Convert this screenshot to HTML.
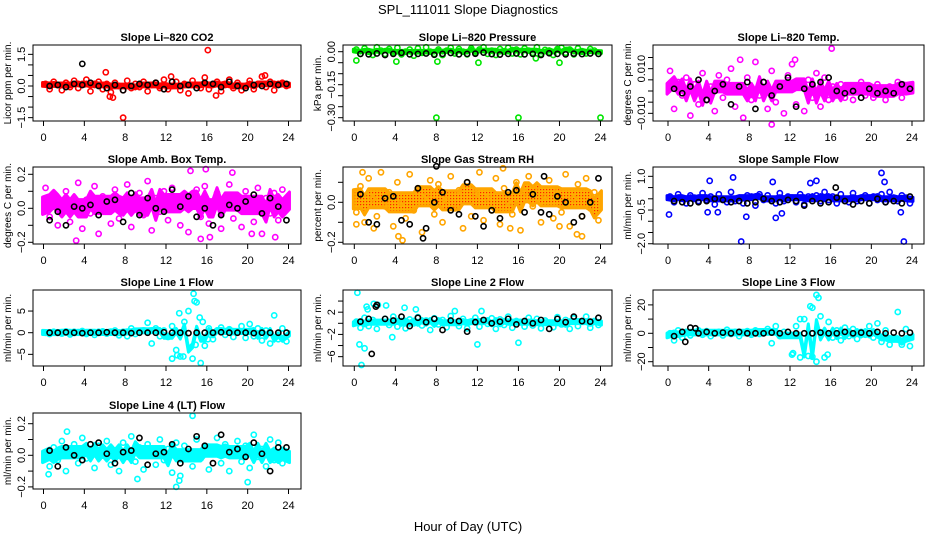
<!DOCTYPE html>
<html><head><meta charset="utf-8"><style>
html,body{margin:0;padding:0;background:#fff;}
svg{display:block;font-family:"Liberation Sans",Arial,sans-serif;}
</style></head><body>
<svg id="c" width="936" height="540" viewBox="0 0 936 540">
<defs>
<pattern id="rhpat" width="3" height="3" patternUnits="userSpaceOnUse"><rect width="3" height="3" fill="#ffb000"/><rect x="0" y="0" width="1.2" height="1.2" fill="#ff2000"/></pattern>
</defs>
<rect width="936" height="540" fill="#fff"/>
<text x="468" y="14" text-anchor="middle" font-size="13">SPL_111011  Slope Diagnostics</text>
<text x="468" y="531" text-anchor="middle" font-size="13">Hour of Day (UTC)</text>
</svg>
<script>
const hoursC=[0.2,0.6,1.0,1.4,1.8,2.2,2.6,3.0,3.4,3.8,4.2,4.6,5.0,5.4,5.8,6.2,6.6,7.0,7.4,7.8,8.2,8.6,9.0,9.4,9.8,10.2,10.6,11.0,11.4,11.8,12.2,12.6,13.0,13.4,13.8,14.2,14.6,15.0,15.4,15.8,16.2,16.6,17.0,17.4,17.8,18.2,18.6,19.0,19.4,19.8,20.2,20.6,21.0,21.4,21.8,22.2,22.6,23.0,23.4,23.8];
const hoursB=[0.6,1.4,2.2,3.0,3.8,4.6,5.4,6.2,7.0,7.8,8.6,9.4,10.2,11.0,11.8,12.6,13.4,14.2,15.0,15.8,16.6,17.4,18.2,19.0,19.8,20.6,21.4,22.2,23.0,23.8];
const xTicks=[0,4,8,12,16,20,24];

const p1Color=[0.1,-0.15,0.2,0.05,-0.2,0.15,-0.05,0.25,-0.1,0.1,0.3,-0.25,0.05,0.2,-0.15,0.1,-0.3,0.15,0.0,-0.2,0.25,-0.1,0.1,-0.05,0.2,-0.25,0.05,0.15,-0.1,0.3,-0.15,0.0,0.2,-0.2,0.1,-0.35,0.25,0.05,-0.1,0.4,-0.15,0.1,0.2,-0.25,0.05,0.3,-0.1,0.15,-0.2,0.0,0.25,-0.15,0.1,0.45,-0.05,0.2,-0.2,0.1,0.15,0.0];
const p1ExtraX=[6.1,7.8,16.1,6.5,6.8,21.7,12.5,16.9];
const p1ExtraY=[0.65,-1.5,1.7,-0.5,-0.55,0.5,0.45,-0.45];
const p1Black=[0.0,0.05,-0.05,0.1,0.05,0.15,0.0,-0.1,0.05,-0.2,0.0,0.1,0.05,0.15,-0.15,0.2,0.0,0.05,-0.1,0.15,0.1,-0.05,0.2,0.0,-0.1,0.05,0.0,0.1,0.05,0.1];
const p1BlackX=[3.8];const p1BlackY=[1.05];

const p2Color=[0.01,-0.01,0.015,0.0,-0.015,0.02,0.005,-0.01,0.012,-0.005,0.018,-0.012,0.0,0.01,-0.018,0.015,-0.005,0.02,0.0,-0.01,0.01,-0.015,0.005,0.018,-0.008,0.012,0.0,-0.012,0.015,-0.005,0.01,0.02,-0.01,0.005,-0.015,0.012,0.0,0.018,-0.008,0.01,-0.012,0.015,0.005,-0.005,0.02,-0.01,0.008,0.0,-0.015,0.012,0.018,-0.005,0.01,-0.012,0.015,0.0,-0.008,0.012,0.005,-0.01];
const p2ExtraX=[0.2,4.1,8.1,12.1,20.0,17.7,8.0,16.0,24.0];
const p2ExtraY=[-0.04,-0.045,-0.045,-0.05,-0.05,-0.03,-0.3,-0.3,-0.3];
const p2Black=[-0.01,-0.012,-0.008,-0.015,-0.01,-0.005,-0.012,-0.01,-0.008,-0.014,-0.01,-0.006,-0.012,-0.01,-0.009,-0.004,-0.011,-0.013,-0.01,-0.008,-0.012,-0.01,-0.015,-0.007,-0.01,-0.012,-0.009,-0.011,-0.008,-0.01];
const p2BlackX=[];const p2BlackY=[];

const p3Color=[0.009,-0.008,0.004,-0.002,0.006,-0.011,0.003,-0.006,0.008,-0.004,0.002,-0.009,0.007,-0.003,0.005,0.010,-0.007,0.001,-0.012,0.006,-0.004,0.013,-0.002,0.004,-0.008,0.009,-0.005,0.002,-0.010,0.007,0.012,-0.006,0.003,-0.009,0.005,-0.003,0.008,-0.007,0.006,-0.004,0.002,-0.002,0.003,-0.003,0.001,-0.004,0.002,0.004,-0.002,0.001,-0.003,0.003,0.000,-0.004,0.002,-0.001,0.004,-0.003,0.001,0.002];
const p3ExtraX=[16.1,10.2,7.1,12.5];
const p3ExtraY=[0.019,-0.015,0.014,0.014];
const p3Black=[0.001,-0.001,0.002,0.005,-0.004,0.0,0.003,-0.006,0.002,0.004,-0.008,0.004,-0.002,0.002,0.006,-0.007,0.001,0.003,0.004,0.006,0.0,-0.001,0.0,-0.003,0.001,-0.001,0.0,-0.001,0.003,0.001];
const p3BlackX=[];const p3BlackY=[];

const p4Color=[0.12,-0.05,0.08,-0.1,0.03,0.1,-0.08,0.0,0.15,-0.12,0.05,-0.03,0.13,-0.15,0.07,0.02,-0.09,0.11,-0.06,0.04,0.14,-0.11,0.01,0.09,-0.04,0.16,-0.13,0.06,-0.02,0.1,-0.07,0.12,0.03,-0.1,0.08,-0.14,0.05,0.11,-0.05,0.13,-0.09,0.0,0.09,-0.12,0.07,0.14,-0.06,0.04,-0.11,0.1,0.02,-0.08,0.12,-0.15,0.06,-0.03,0.09,-0.07,0.11,0.0];
const p4ExtraX=[14.4,15.9,18.5,3.2,15.4,16.3,22.7,20.4];
const p4ExtraY=[0.22,0.23,0.21,-0.19,-0.18,-0.17,-0.17,-0.15];
const p4Black=[-0.07,-0.02,-0.1,0.01,0.0,0.02,-0.04,0.04,0.05,-0.08,0.09,-0.04,0.06,0.0,-0.02,0.11,0.01,0.07,-0.05,0.0,-0.1,-0.04,0.02,0.0,0.04,0.08,-0.03,0.06,0.01,-0.07];
const p4BlackX=[];const p4BlackY=[];

const p5Color=[-0.05,0.08,-0.1,0.12,0.02,-0.07,0.15,-0.02,0.05,-0.12,0.1,0.0,-0.08,0.14,-0.04,0.07,-0.15,0.03,0.11,-0.06,0.09,-0.1,0.01,0.13,-0.03,0.06,-0.13,0.1,-0.07,0.04,0.15,-0.09,0.02,-0.04,0.12,-0.11,0.07,0.0,-0.06,0.1,-0.14,0.05,0.13,-0.02,0.08,-0.1,0.03,0.11,-0.08,0.06,-0.05,0.14,-0.12,0.02,0.09,-0.07,0.12,-0.03,0.05,-0.09];
const p5ExtraX=[4.3,4.7,0.2,1.9,20.0,21.7,22.2,15.2,0.8,14.5];
const p5ExtraY=[-0.17,-0.19,-0.11,-0.13,-0.12,-0.16,-0.17,-0.13,0.15,0.17];
const p5Black=[0.04,-0.1,-0.11,0.02,0.03,-0.09,-0.11,0.07,-0.13,0.0,0.05,-0.04,-0.06,0.1,-0.07,-0.12,-0.04,-0.08,0.05,0.06,-0.05,0.04,-0.05,-0.06,0.03,0.0,-0.1,-0.07,0.0,0.12];
const p5BlackX=[8.0,18.5,6.7];const p5BlackY=[0.18,0.13,-0.18];

const p6Color=[0.1,-0.15,0.2,0.0,-0.2,0.15,0.05,-0.1,0.25,-0.05,0.1,-0.25,0.2,0.0,-0.15,0.3,-0.1,0.05,-0.2,0.15,0.1,-0.3,0.2,-0.05,0.15,0.0,-0.2,0.25,-0.1,0.1,0.05,-0.15,0.2,-0.25,0.1,0.0,0.15,-0.1,0.3,-0.05,0.1,-0.2,0.2,0.0,-0.15,0.25,-0.1,0.05,0.15,-0.2,0.1,-0.05,0.2,-0.15,0.3,0.0,-0.1,0.15,0.05,-0.2];
const p6ExtraX=[0.1,4.1,6.4,7.2,10.3,10.6,11.2,14.0,14.6,21.0,21.3,23.2,3.9,7.7,4.9,22.9];
const p6ExtraY=[-0.7,0.8,0.95,-1.9,0.75,-0.85,-0.65,0.7,0.8,1.15,0.75,-1.9,-0.6,-0.8,-0.6,-0.6];
const p6Black=[-0.1,-0.15,-0.2,-0.15,-0.1,0.0,-0.05,-0.15,-0.1,-0.2,-0.15,0.0,-0.1,-0.15,-0.05,-0.1,-0.3,-0.1,-0.2,-0.15,0.05,-0.1,-0.25,-0.1,-0.2,0.0,-0.15,-0.1,-0.2,0.1];
const p6BlackX=[16.5];const p6BlackY=[0.5];

const p7Color=[0.0,-0.3,0.2,0.1,-0.2,0.3,-0.4,0.2,0.0,0.4,-0.3,0.1,-0.5,0.2,0.3,-0.2,0.0,0.5,-0.6,0.2,-0.8,1.0,-0.3,0.4,0.5,2.3,-2.5,1.0,-0.8,0.5,-1.0,1.5,-4.0,-5.5,2.5,5.0,-6.0,7.0,-7.0,-3.0,1.0,-1.5,0.5,1.2,-0.5,0.8,-1.0,0.3,1.5,-1.2,2.0,-0.8,1.0,-1.8,0.5,-2.5,4.0,-1.5,1.0,-2.0];
const p7ExtraX=[14.7,14.8,13.3,13.7,15.3,15.6,16.1,14.9,12.6,13.1];
const p7ExtraY=[9.0,7.3,4.5,-5.5,3.5,2.5,-1.5,-2.8,-6.0,-5.2];
const p7Black=[0,0,0.1,0,-0.1,0,0,0.1,0,0,-0.1,0,0,0,0.1,0,0,-0.1,0,0,0,0.1,0,0,0,-0.1,0,0,0,0];
const p7BlackX=[];const p7BlackY=[];

const p8Color=[0.3,-0.8,1.0,-0.5,0.6,-1.0,0.2,0.8,-0.3,1.2,-0.6,0.4,-0.9,0.7,0.0,1.1,-0.4,0.5,-1.2,0.9,-0.2,0.6,-0.7,1.3,0.1,-0.5,0.8,-0.9,0.3,1.0,-0.6,0.5,-0.1,0.9,-1.0,0.7,-0.3,1.2,-0.8,0.4,0.2,-0.6,1.0,-0.4,0.8,-0.9,0.5,0.1,-0.7,1.1,-0.2,0.6,-1.0,0.9,-0.5,0.3,1.2,-0.8,0.4,-0.3];
const p8ExtraX=[0.3,0.7,0.5,1.0,1.2,1.9,2.3,3.7,1.3,4.9,6.0,12.0,16.0,12.4,9.8,3.1];
const p8ExtraY=[5.5,-7.5,-3.8,-4.5,3.0,3.5,3.3,-2.5,2.5,2.8,2.5,-3.8,-3.5,2.2,2.2,3.2];
const p8Black=[0.3,0.8,3.3,0.8,0.5,1.2,-0.5,1.0,0.2,0.8,-1.2,0.5,0.4,-1.5,0.2,0.6,0.0,0.3,0.8,-0.2,0.4,0.0,0.6,-1.0,0.8,0.2,1.2,0.4,0.3,1.0];
const p8BlackX=[1.7,2.1];const p8BlackY=[-5.5,3.0];

const p9Color=[0.0,-5.0,2.0,-3.0,1.0,-1.5,0.5,2.0,-1.0,1.5,-2.0,0.5,1.0,-1.5,2.5,-0.5,1.0,-2.0,0.5,1.5,-1.0,2.0,-0.5,1.0,3.0,-7.0,5.0,-2.0,1.0,-1.5,-15.0,5.0,-17.0,10.0,-16.0,18.0,-20.0,12.0,-17.0,8.0,-3.0,2.0,-5.0,4.0,-2.0,3.0,-4.0,1.0,-1.0,5.0,-3.0,7.0,-6.0,2.0,-8.0,-4.0,15.0,-8.0,3.0,-9.0];
const p9ExtraX=[14.6,14.8,13.0,12.3,15.7,14.0,14.2];
const p9ExtraY=[27.0,25.0,10.0,-14.0,-15.0,19.0,-16.5];
const p9Black=[-2.0,1.0,4.0,0.0,1.0,0.0,0.5,0.0,1.0,0.0,0.0,0.0,0.5,0.0,1.0,0.0,0.0,0.0,0.5,0.0,0.0,1.0,0.0,0.5,0.0,1.0,0.0,0.5,0.0,0.5];
const p9BlackX=[1.7,2.7];const p9BlackY=[-6.0,3.5];

const p10Color=[0.01,-0.07,0.05,-0.03,0.09,-0.1,0.02,0.07,-0.05,0.11,-0.02,0.04,-0.08,0.06,0.0,0.09,-0.06,0.03,-0.1,0.08,-0.01,0.12,-0.04,0.05,-0.09,0.07,0.02,-0.06,0.1,-0.03,0.04,-0.11,0.08,-0.13,0.06,0.0,-0.07,0.1,-0.02,0.05,-0.09,0.03,0.11,-0.05,0.07,-0.1,0.02,0.09,-0.04,0.06,-0.08,0.13,-0.01,0.04,-0.07,0.1,-0.03,0.08,-0.05,0.01];
const p10ExtraX=[14.6,13.0,20.0,13.3,0.5,2.3,9.2];
const p10ExtraY=[0.25,-0.2,-0.17,-0.16,-0.12,0.15,-0.15];
const p10Black=[0.03,-0.07,0.05,0.0,-0.03,0.07,0.08,0.01,-0.05,0.02,0.03,0.11,-0.06,0.01,0.02,0.07,-0.05,0.04,0.12,0.06,-0.05,0.13,0.02,0.04,-0.01,0.08,0.01,-0.1,0.05,0.05];
const p10BlackX=[];const p10BlackY=[];

const titles=["Slope Li\u2013820 CO2","Slope Li\u2013820 Pressure","Slope Li\u2013820 Temp.","Slope Amb. Box Temp.","Slope Gas Stream RH","Slope Sample Flow","Slope Line 1 Flow","Slope Line 2 Flow","Slope Line 3 Flow","Slope Line 4 (LT) Flow"];
const yTitles=["Licor ppm per min.","kPa per min.","degrees C per min.","degrees C per min.","percent per min.","ml/min per min.","ml/min per min.","ml/min per min.","ml/min per min.","ml/min per min."];
const yTickVals=[[-1.5,-1,-0.5,0,0.5,1,1.5],[0,-0.05,-0.1,-0.15,-0.2,-0.25,-0.3],[-0.01,-0.005,0,0.005,0.01,0.015],[-0.2,-0.1,0,0.1,0.2],[-0.2,-0.1,0,0.1],[-2,-1.5,-1,-0.5,0,0.5,1],[-5,0,5],[-6,-4,-2,0,2,4],[-20,-10,0,10,20],[-0.2,-0.1,0,0.1,0.2]];
const yTickLabels=[{"-1.5":"\u22121.5","0":"0.0","1.5":"1.5"},{"0":"0.00","-0.15":"\u22120.15","-0.3":"\u22120.30"},{"-0.01":"\u22120.010","0.01":"0.010"},{"-0.2":"\u22120.2","0":"0.0","0.2":"0.2"},{"-0.2":"\u22120.2","0":"0.0"},{"-2":"\u22122.0","-0.5":"\u22120.5","1":"1.0"},{"-5":"\u22125","0":"0","5":"5"},{"-6":"\u22126","-2":"\u22122","2":"2"},{"-20":"\u221220","0":"0","20":"20"},{"-0.2":"\u22120.2","0":"0.0","0.2":"0.2"}];

const colorSets=[p1Color,p2Color,p3Color,p4Color,p5Color,p6Color,p7Color,p8Color,p9Color,p10Color];
const extraXs=[p1ExtraX,p2ExtraX,p3ExtraX,p4ExtraX,p5ExtraX,p6ExtraX,p7ExtraX,p8ExtraX,p9ExtraX,p10ExtraX];
const extraYs=[p1ExtraY,p2ExtraY,p3ExtraY,p4ExtraY,p5ExtraY,p6ExtraY,p7ExtraY,p8ExtraY,p9ExtraY,p10ExtraY];
const blackSets=[p1Black,p2Black,p3Black,p4Black,p5Black,p6Black,p7Black,p8Black,p9Black,p10Black];
const blackXs=[p1BlackX,p2BlackX,p3BlackX,p4BlackX,p5BlackX,p6BlackX,p7BlackX,p8BlackX,p9BlackX,p10BlackX];
const blackYs=[p1BlackY,p2BlackY,p3BlackY,p4BlackY,p5BlackY,p6BlackY,p7BlackY,p8BlackY,p9BlackY,p10BlackY];

/* layout (not data) */
const colL=[33,343,653],colR=[301,612,924],x0=[43.5,354.3,668],x24=[288.5,600.5,912];
const rowT=[45,167,290,413],rowB=[121,244,366,489];
const yZero=[86,51.7,91,208.3,202.3,198.8,332.7,323.3,333.3,455.3];
const yScale=[21.1,220,2234,170,200,22.47,4.33,5.56,1.42,158];
const colors=["#ff0000","#00e600","#ff00ff","#ff00ff","#ffa500","#0000ff","#00ffff","#00ffff","#00ffff","#00ffff"];
const fills=["#ff0000","#00e600","#ff00ff","#ff00ff","url(#rhpat)","#0000ff","#00ffff","#00ffff","#00ffff","#00ffff"];

const svg=document.getElementById('c');
const NS="http://www.w3.org/2000/svg";
function mk(tag,attrs,parent){const e=document.createElementNS(NS,tag);for(const k in attrs)e.setAttribute(k,attrs[k]);parent.appendChild(e);return e;}
function median(a){const s=a.slice().sort((x,y)=>x-y);const m=s.length>>1;return s.length%2?s[m]:(s[m-1]+s[m])/2;}

for(let p=0;p<10;p++){
  const col=p%3,row=Math.floor(p/3);
  const L=colL[col],R=colR[col],T=rowT[row],B=rowB[row];
  const xs=h=>x0[col]+(x24[col]-x0[col])*h/24;
  const ys=v=>yZero[p]-v*yScale[p];
  const g=mk('g',{},svg);
  
  
  const t=mk('text',{x:(L+R)/2,y:T-4,'text-anchor':'middle','font-size':11,'font-weight':'bold'},g);
  t.textContent=titles[p];
  
  
  const yt=mk('text',{x:0,y:0,'text-anchor':'middle','font-size':10,transform:`translate(${L-22},${(T+B)/2}) rotate(-90)`},g);
  yt.textContent=yTitles[p];
  
  
  const cs=colorSets[p];
  // dense cloud core: global median |value|, centred on rolling median
  const half=0.6*median(cs.map(Math.abs));
  const up=[],dn=[];
  for(let i=0;i<cs.length;i++){
    const c=median(cs.slice(Math.max(0,i-3),i+4));
    up.push([xs(hoursC[i]),ys(c+half)]);dn.push([xs(hoursC[i]),ys(c-half)]);
  }
  up[0][0]-=3;dn[0][0]-=3;up[up.length-1][0]+=3;dn[dn.length-1][0]+=3;
  const poly=up.concat(dn.reverse()).map(q=>q.join(',')).join(' ');
  const band=mk('polygon',{points:poly,fill:fills[p],stroke:colors[p],'stroke-width':3,'stroke-linejoin':'round'},g);
  
  
  const pts=mk('g',{fill:'none',stroke:colors[p],'stroke-width':1.6},g);
  
  
  for(let i=0;i<cs.length;i++){
    const c=mk('circle',{cx:xs(hoursC[i]),cy:ys(cs[i]),r:2.6},pts);
    
    
  }
  for(let i=0;i<extraXs[p].length;i++){
    const c=mk('circle',{cx:xs(extraXs[p][i]),cy:ys(extraYs[p][i]),r:2.6},pts);
    
    
  }
  const bp=mk('g',{fill:'none',stroke:'#000','stroke-width':1.6},g);
  
  
  const bs=blackSets[p];
  for(let i=0;i<bs.length;i++){
    const c=mk('circle',{cx:xs(hoursB[i]),cy:ys(bs[i]),r:2.6},bp);
    
    
  }
  for(let i=0;i<blackXs[p].length;i++){
    const c=mk('circle',{cx:xs(blackXs[p][i]),cy:ys(blackYs[p][i]),r:2.6},bp);
    
    
  }
  const box=mk('rect',{x:L,y:T,width:R-L,height:B-T,fill:'none',stroke:'#000','stroke-width':1},g);
  
  
  const xa=mk('g',{},g);
  
  
  for(const h of xTicks){
    mk('line',{x1:xs(h),x2:xs(h),y1:B,y2:B+5,stroke:'#000'},xa);
    const tl=mk('text',{x:xs(h),y:B+20,'text-anchor':'middle','font-size':11},xa);
    tl.textContent=String(h);
    
    
  }
  const ya=mk('g',{},g);
  
  
  for(const v of yTickVals[p]){
    const y=ys(v);
    if(y<T-3||y>B+3)continue;
    mk('line',{x1:L-5,x2:L,y1:y,y2:y,stroke:'#000'},ya);
    const lab=yTickLabels[p][String(v)];
    if(lab){
      const tl=mk('text',{x:0,y:0,'text-anchor':'middle','font-size':11,transform:`translate(${L-8},${y}) rotate(-90)`},ya);
      tl.textContent=lab;
      
      
    }
  }
}
</script>
</body></html>
